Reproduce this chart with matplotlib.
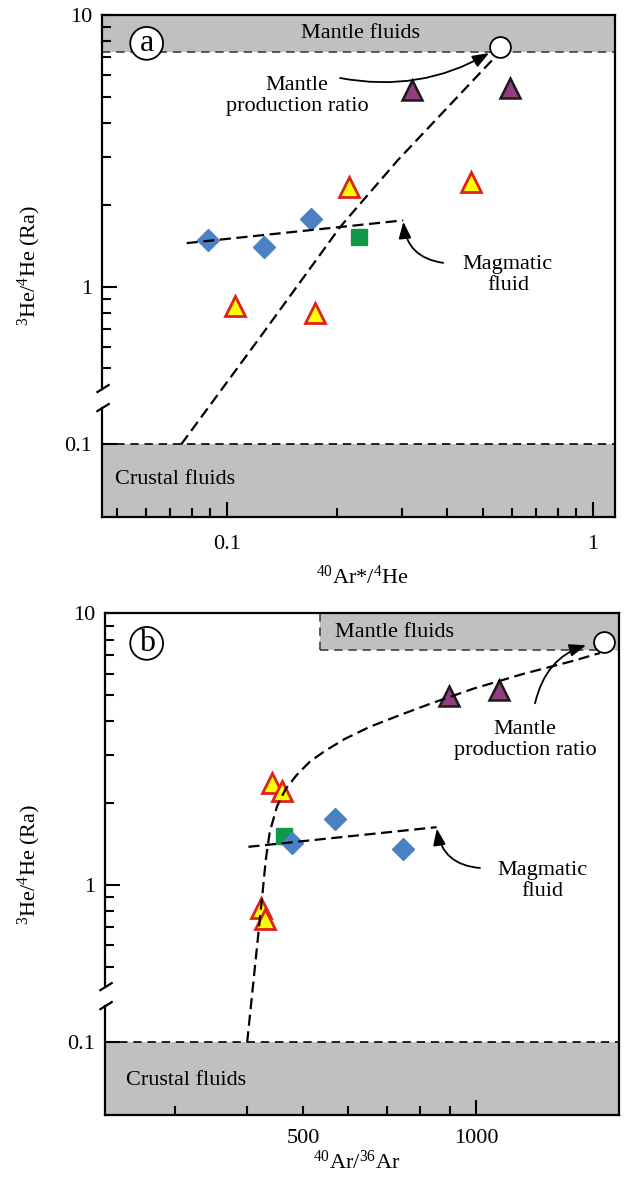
import numpy as np
import matplotlib
matplotlib.use('Agg')
from matplotlib import pyplot as plt
from matplotlib.ticker import NullFormatter

plt.rcParams['font.family'] = ['Liberation Serif', 'DejaVu Serif']
plt.rcParams['mathtext.fontset'] = 'custom'
plt.rcParams['mathtext.rm'] = 'Liberation Serif'
plt.rcParams['mathtext.it'] = 'Liberation Serif:italic'

# ---- panel (a): 40Ar*/4He vs 3He/4He ----
a_diamond_x = [0.089, 0.126, 0.170]
a_diamond_y = [1.48, 1.40, 1.78]
a_square_x = [0.230]
a_square_y = [1.52]
a_yellow_x = [0.105, 0.174, 0.216, 0.463]
a_yellow_y = [0.85, 0.80, 2.33, 2.43]
a_purple_x = [0.320, 0.593]
a_purple_y = [5.29, 5.36]
a_mantle_x = [0.556]
a_mantle_y = [7.64]
a_mix_x = [0.075, 0.123, 0.204, 0.293, 0.547]
a_mix_y = [0.10, 0.65, 1.66, 2.92, 7.12]
a_magma_x = [0.0776, 0.303]
a_magma_y = [1.445, 1.752]

# ---- panel (b): 40Ar/36Ar vs 3He/4He ----
b_diamond_x = [479, 568, 746]
b_diamond_y = [1.42, 1.74, 1.35]
b_square_x = [463]
b_square_y = [1.51]
b_yellow_x = [441, 459, 422, 430]
b_yellow_y = [2.37, 2.21, 0.82, 0.75]
b_purple_x = [897, 1096]
b_purple_y = [4.96, 5.22]
b_mantle_x = [1668]
b_mantle_y = [7.86]
b_mix_x = [400, 426, 431, 438, 451, 467, 488, 514, 546, 592, 654, 738, 832, 988, 1208, 1476, 1643]
b_mix_y = [0.10, 0.96, 1.24, 1.57, 1.95, 2.26, 2.54, 2.84, 3.11, 3.45, 3.82, 4.22, 4.64,
           5.27, 5.98, 6.68, 7.14]
b_magma_x = [402, 854]
b_magma_y = [1.38, 1.63]
b_band_x0 = 536

# fluid end-members
mantle_lo = 7.3
crust_hi = 0.1
y_lim = (0.054, 10)

gray = '#c0c0c0'
blue = '#4a80c4'
green = '#11994a'
yellow = '#ffff00'
red = '#e0201b'
purple = '#923d80'
dash = (0, (5, 2.5))
fs = 16


def fwd(y):
    ly = np.log10(np.clip(np.asarray(y, dtype=float), 1e-9, None))
    mid = -0.58 + (ly + 1) / 0.58 * 0.16
    return np.where(ly >= -0.42, ly, np.where(ly >= -1, mid, ly + 0.42))


def inv(f):
    f = np.asarray(f, dtype=float)
    mid = 10 ** (-1 + (f + 0.58) / 0.16 * 0.58)
    return np.where(f >= -0.42, 10 ** f, np.where(f >= -0.58, mid, 10 ** (f - 0.42)))


def setup(ax, xlim, xmajor, xlabels, xminor, xpad):
    ax.set_xscale('log')
    ax.set_yscale('function', functions=(fwd, inv))
    ax.set_xlim(*xlim)
    ax.set_ylim(*y_lim)
    ax.set_xticks(xmajor)
    ax.set_xticklabels(xlabels)
    ax.set_xticks(xminor, minor=True)
    ax.xaxis.set_minor_formatter(NullFormatter())
    ax.set_yticks([0.1, 1, 10])
    ax.set_yticklabels(['0.1', '1', '10'])
    ax.set_yticks([0.5, 0.6, 0.7, 0.8, 0.9, 2, 3, 4, 5, 6, 7, 8, 9], minor=True)
    ax.yaxis.set_minor_formatter(NullFormatter())
    ax.tick_params(which='both', direction='in', top=False, right=False, width=1.5)
    ax.tick_params(which='major', length=11, labelsize=fs)
    ax.tick_params(axis='y', which='major', pad=7)
    ax.tick_params(axis='x', which='major', pad=xpad)
    ax.tick_params(which='minor', length=6.5)
    for s in ['top', 'right', 'bottom']:
        ax.spines[s].set_linewidth(1.6)
    ax.spines['left'].set_visible(False)
    # broken left spine
    f0 = fwd(y_lim[0])
    top = (-0.375 - f0) / (1 - f0)
    bot = (-0.445 - f0) / (1 - f0)
    ax.plot([0, 0], [top, 1], transform=ax.transAxes, color='k', lw=1.6, clip_on=False)
    ax.plot([0, 0], [0, bot], transform=ax.transAxes, color='k', lw=1.6, clip_on=False)
    for yb in [top, bot]:
        ax.plot([-0.009, 0.013], [yb - 0.007, yb + 0.007], transform=ax.transAxes,
                color='k', lw=1.6, clip_on=False)
    # crustal band
    ax.axhspan(y_lim[0], crust_hi, color=gray, lw=0, zorder=0)
    ax.axhline(crust_hi, color='k', lw=1.2, ls=(0, (5, 3.5)), zorder=1)
    ax.set_ylabel(r'$^{3}$He/$^{4}$He (Ra)', fontsize=fs)


def points(ax, dx, dy, sx, sy, yx, yy, px, py, mx, my):
    ax.plot(dx, dy, ls='none', marker='D', ms=11, mfc=blue, mec=blue, zorder=3)
    ax.plot(sx, sy, ls='none', marker='s', ms=11, mfc=green, mec=green, zorder=2.9)
    ax.plot(yx, yy, ls='none', marker='^', ms=14, mfc=yellow, mec=red, mew=2, zorder=3)
    ax.plot(px, py, ls='none', marker='^', ms=14, mfc=purple, mec='#1a1a1a', mew=1.8, zorder=3)
    ax.plot(mx, my, ls='none', marker='o', ms=15, mfc='white', mec='k', mew=1.3, zorder=6)


def panel_label(ax, fx, fy, s):
    ax.text(fx, fy, s, transform=ax.transAxes, fontsize=23, ha='center', va='center',
            bbox=dict(boxstyle='circle,pad=0.06', fc='white', ec='k', lw=1.3), zorder=7)


def arrow(ax, xy, tail, rad, shrink):
    ax.annotate('', xy=xy, xycoords='data', xytext=tail, textcoords='axes fraction',
                arrowprops=dict(arrowstyle='-|>,head_length=1.0,head_width=0.38', color='k',
                                lw=1.3, shrinkA=0, shrinkB=shrink,
                                connectionstyle='arc3,rad=%s' % rad))


fig = plt.figure(figsize=(6.24, 11.78), dpi=100)

# ---------------- (a) ----------------
ax = fig.add_axes([0.1635, 0.5611, 0.8221, 0.4264])
setup(ax, (0.04556, 1.148), [0.1, 1], ['0.1', '1'],
      [0.05, 0.06, 0.07, 0.08, 0.09, 0.2, 0.3, 0.4, 0.5, 0.6, 0.7, 0.8, 0.9], 13)
ax.axhspan(mantle_lo, y_lim[1], color=gray, lw=0, zorder=0)
ax.axhline(mantle_lo, color='#404040', lw=1.2, ls=(0, (5, 3.5)), zorder=1)
points(ax, a_diamond_x, a_diamond_y, a_square_x, a_square_y, a_yellow_x, a_yellow_y,
       a_purple_x, a_purple_y, a_mantle_x, a_mantle_y)
ax.plot(a_mix_x, a_mix_y, color='k', lw=1.6, ls=dash, zorder=4)
ax.plot(a_magma_x, a_magma_y, color='k', lw=1.6, ls=dash, zorder=4)

ax.text(0.503, 0.963, 'Mantle fluids', transform=ax.transAxes, fontsize=fs,
        ha='center', va='center')
ax.text(0.025, 0.075, 'Crustal fluids', transform=ax.transAxes, fontsize=fs,
        ha='left', va='center')
ax.text(0.380, 0.839, 'Mantle\nproduction ratio', transform=ax.transAxes, fontsize=fs,
        ha='center', va='center', linespacing=1.15)
ax.text(0.791, 0.482, 'Magmatic\nfluid', transform=ax.transAxes, fontsize=fs,
        ha='center', va='center', linespacing=1.15)
arrow(ax, (a_mantle_x[0], a_mantle_y[0]), (0.464, 0.874), 0.2, 9)
arrow(ax, (a_magma_x[-1], a_magma_y[-1]), (0.665, 0.506), -0.4, 1)
panel_label(ax, 0.087, 0.943, 'a')
ax.set_xlabel(r'$^{40}$Ar*/$^{4}$He', fontsize=fs)
ax.xaxis.set_label_coords(0.507, -0.0976)
ax.yaxis.set_label_coords(-0.116, 0.5)

# ---------------- (b) ----------------
ax = fig.add_axes([0.1683, 0.0535, 0.8237, 0.4259])
xlim_b = (226.4, 1773)
setup(ax, xlim_b, [500, 1000], ['500', '1000'], [300, 400, 600, 700, 800, 900], 10)
ax.get_xaxis().get_major_ticks()[0].tick1line.set_markersize(6.5)
ax.fill_between([b_band_x0, xlim_b[1]], mantle_lo, y_lim[1], color=gray, lw=0, zorder=0)
ax.plot([b_band_x0, b_band_x0], [mantle_lo, y_lim[1]], color='#404040', lw=1.2,
        ls=(0, (5, 3.5)), zorder=1)
ax.plot([b_band_x0, xlim_b[1]], [mantle_lo, mantle_lo], color='#404040', lw=1.2,
        ls=(0, (5, 3.5)), zorder=1)
points(ax, b_diamond_x, b_diamond_y, b_square_x, b_square_y, b_yellow_x, b_yellow_y,
       b_purple_x, b_purple_y, b_mantle_x, b_mantle_y)
ax.plot(b_mix_x, b_mix_y, color='k', lw=1.6, ls=dash, zorder=4)
ax.plot(b_magma_x, b_magma_y, color='k', lw=1.6, ls=dash, zorder=4)

ax.text(0.4475, 0.961, 'Mantle fluids', transform=ax.transAxes, fontsize=fs,
        ha='left', va='center')
ax.text(0.041, 0.068, 'Crustal fluids', transform=ax.transAxes, fontsize=fs,
        ha='left', va='center')
ax.text(0.817, 0.748, 'Mantle\nproduction ratio', transform=ax.transAxes, fontsize=fs,
        ha='center', va='center', linespacing=1.15)
ax.text(0.851, 0.466, 'Magmatic\nfluid', transform=ax.transAxes, fontsize=fs,
        ha='center', va='center', linespacing=1.15)
arrow(ax, (b_mantle_x[0], b_mantle_y[0]), (0.8366, 0.8206), -0.35, 13)
arrow(ax, (b_magma_x[-1], b_magma_y[-1]), (0.7296, 0.4923), -0.4, 1)
panel_label(ax, 0.081, 0.940, 'b')
ax.set_xlabel(r'$^{40}$Ar/$^{36}$Ar', fontsize=fs)
ax.xaxis.set_label_coords(0.490, -0.0718)
ax.yaxis.set_label_coords(-0.1216, 0.5)

fig.savefig('out.png', dpi=100)
